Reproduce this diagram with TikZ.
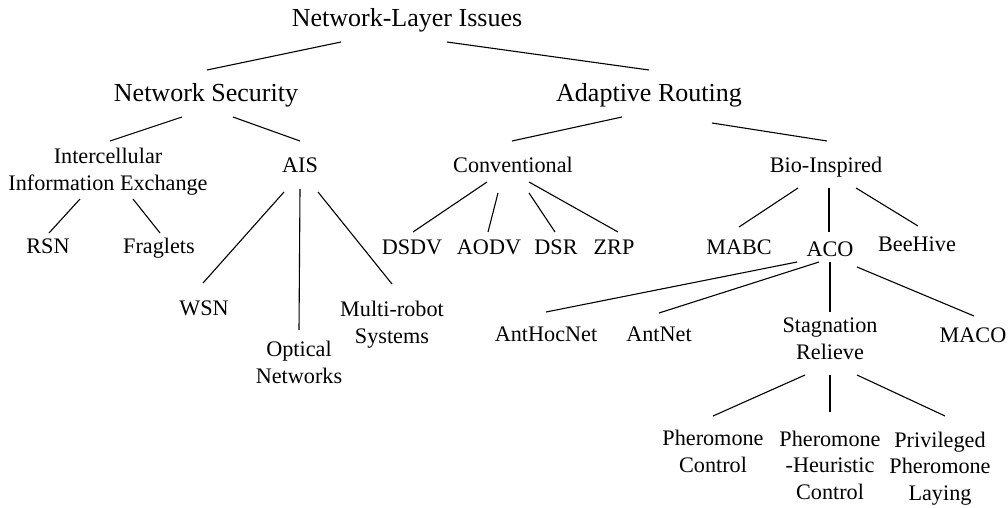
\documentclass[tikz,border=0pt]{standalone}
\usepackage{fontspec}
\setmainfont{Liberation Serif}

\tikzstyle{every node}=[anchor=base, inner sep=0pt, align=center]
\tikzstyle{big}=[font=\fontsize{26}{30}\selectfont]
\tikzstyle{small}=[font=\fontsize{22.2}{26.5}\selectfont]
\tikzstyle{branch}=[line width=1.1pt]

\begin{document}
\begin{tikzpicture}[x=1pt, y=-1pt]
\useasboundingbox (0,0) rectangle (1008,508);

\node [big] (root) at (407,27) {Network-Layer Issues};

\node [big] (sec) at (206,102) {Network Security};
\node [big] (ada) at (649,102) {Adaptive Routing};

\node [small] (iie) at (108,190) {Intercellular\\Information Exchange};
\node [small] (ais) at (300,172) {AIS};
\node [small] (conv) at (513,172) {Conventional};
\node [small] (bio) at (826,172) {Bio-Inspired};

\node [small] (rsn) at (48,253) {RSN};
\node [small] (frag) at (159,253) {Fraglets};
\node [small] (wsn) at (204,315) {WSN};
\node [small] (opt) at (299,383) {Optical\\Networks};
\node [small] (multi) at (392,343) {Multi-robot\\Systems};

\node [small] (dsdv) at (412,254) {DSDV};
\node [small] (aodv) at (489,254) {AODV};
\node [small] (dsr) at (556,254) {DSR};
\node [small] (zrp) at (614,254) {ZRP};

\node [small] (mabc) at (739,254) {MABC};
\node [small] (aco) at (830,256) {ACO};
\node [small] (bee) at (917,251) {BeeHive};

\node [small] (anthoc) at (546,341) {AntHocNet};
\node [small] (antnet) at (659,341) {AntNet};
\node [small] (stag) at (830,359) {Stagnation\\Relieve};
\node [small] (maco) at (973,342) {MACO};

\node [small] (phc) at (713,472) {Pheromone\\Control};
\node [small] (phh) at (830,499) {Pheromone\\-Heuristic\\Control};
\node [small] (priv) at (940,500) {Privileged\\Pheromone\\Laying};

\path [branch] ([shift={(-66,15)}]root.base) edge ([shift={(1,-32)}]sec.base)
	([shift={(40,15)}]root.base) edge ([shift={(0,-32)}]ada.base)
	([shift={(-24,15)}]sec.base) edge ([shift={(2,-49)}]iie.base)
	([shift={(27,15)}]sec.base) edge ([shift={(0,-31)}]ais.base)
	([shift={(-27,15)}]ada.base) edge ([shift={(-1,-31)}]conv.base)
	([shift={(63,21)}]ada.base) edge ([shift={(1,-31)}]bio.base);

\path [branch] ([shift={(-28,9)}]iie.base) edge ([shift={(1,-20)}]rsn.base)
	([shift={(25,9)}]iie.base) edge ([shift={(1,-20)}]frag.base)
	([shift={(-16,20)}]ais.base) edge ([shift={(-1,-32)}]wsn.base)
	([shift={(0,17)}]ais.base) edge ([shift={(0,-53)}]opt.base)
	([shift={(18,20)}]ais.base) edge ([shift={(0,-59)}]multi.base);

\path [branch] ([shift={(-26,10)}]conv.base) edge ([shift={(1,-22)}]dsdv.base)
	([shift={(-15,21)}]conv.base) edge ([shift={(-1,-22)}]aodv.base)
	([shift={(16,21)}]conv.base) edge ([shift={(-1,-22)}]dsr.base)
	([shift={(16,10)}]conv.base) edge ([shift={(4,-22)}]zrp.base);

\path [branch] ([shift={(-28,16)}]bio.base) edge ([shift={(0,-27)}]mabc.base)
	([shift={(3,16)}]bio.base) edge ([shift={(-1,-24)}]aco.base)
	([shift={(30,16)}]bio.base) edge ([shift={(1,-25)}]bee.base);

\path [branch] ([shift={(-33,6)}]aco.base) edge ([shift={(0,-29)}]anthoc.base)
	([shift={(-11,6)}]aco.base) edge ([shift={(0,-28)}]antnet.base)
	([shift={(0,6)}]aco.base) edge ([shift={(0,-47)}]stag.base)
	([shift={(27,11)}]aco.base) edge ([shift={(1,-26)}]maco.base);

\path [branch] ([shift={(-25,16)}]stag.base) edge ([shift={(0,-56)}]phc.base)
	([shift={(0,16)}]stag.base) edge ([shift={(0,-87)}]phh.base)
	([shift={(27,16)}]stag.base) edge ([shift={(5,-84)}]priv.base);
\end{tikzpicture}
\end{document}
